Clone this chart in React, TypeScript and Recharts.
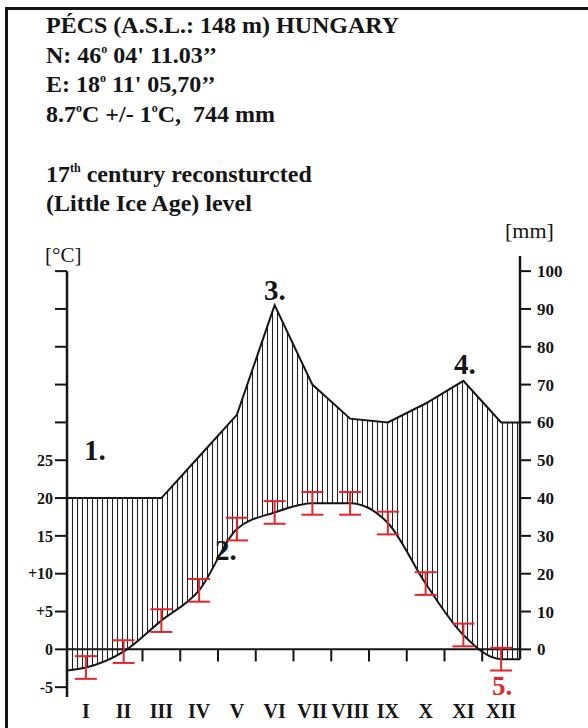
import React from 'react';
import { ComposedChart, Area, XAxis, YAxis, ReferenceLine, Scatter, ErrorBar } from 'recharts';

const months = ['I', 'II', 'III', 'IV', 'V', 'VI', 'VII', 'VIII', 'IX', 'X', 'XI', 'XII'];
const tempC = [-2.4, -0.3, 3.8, 7.8, 15.9, 18.1, 19.3, 19.3, 16.7, 8.7, 1.9, -1.3];
const tempErr = [1.5, 1.5, 1.5, 1.5, 1.5, 1.5, 1.5, 1.5, 1.5, 1.5, 1.5, 1.5];
const precipMm = [40, 40, 40, 51, 62, 91, 70, 61, 60, 65, 71, 60];
const edgeTemp = [-2.8, -1.3];
const edgePrecip = [40, 60];
const tempTicks = [-5, 0, 5, 10, 15, 20, 25, 30, 35, 40, 45, 50];
const tempTickLabels = ['-5', '0', '+5', '+10', '15', '20', '25', '', '', '', '', ''];
const mmTicks = [0, 10, 20, 30, 40, 50, 60, 70, 80, 90, 100];
const boundaryTicks = [2, 3, 4, 5, 6, 7, 8, 9, 10, 11];

const T_MIN = -6.3;
const T_MAX = 52;
const AXIS_TOP = 50;
const TICK_DOWN = -1.6;

const monthRows = months.map((m, i) => ({ x: i + 0.5, temp: tempC[i], err: tempErr[i], precip: precipMm[i] }));
const rows = [
  { x: 0, temp: edgeTemp[0], precip: edgePrecip[0] },
  ...monthRows,
  { x: 12, temp: edgeTemp[1], precip: edgePrecip[1] },
];

const SERIF = "'Liberation Serif', 'Times New Roman', serif";
const INK = '#151515';
const RED = '#e3262b';

// parts: alternating normal / superscript segments
const Line = ({ x, y, parts }: { x: number; y: number; parts: string[] }) => (
  <text x={x} y={y} xmlSpace="preserve">
    {parts.map((p, i) =>
      i % 2 === 1 ? (
        <tspan key={i} dy={-10} fontSize={12}>{p}</tspan>
      ) : (
        <tspan key={i} dy={i === 0 ? 0 : 10}>{p}</tspan>
      )
    )}
  </text>
);

export default function App() {
  return (
    <div style={{ position: 'fixed', left: 0, top: 0, width: 588, height: 728, overflow: 'hidden', background: '#fff' }}>
      <svg width={0} height={0} style={{ position: 'absolute' }}>
        <defs>
          <pattern id="hatch" x={0} y={0} width={5} height={10} patternUnits="userSpaceOnUse">
            <line x1={2.5} y1={0} x2={2.5} y2={10} stroke="#222" strokeWidth={1.1} />
          </pattern>
        </defs>
      </svg>
      <div style={{ position: 'absolute', left: 0, top: 0 }}>
        <ComposedChart width={588} height={728} data={rows} margin={{ top: 256, right: 0, bottom: 0, left: 0 }}>
          <XAxis
            dataKey="x"
            type="number"
            domain={[0, 12]}
            ticks={monthRows.map((r) => r.x)}
            interval={0}
            tickFormatter={(v: number) => months[Math.floor(v)]}
            axisLine={false}
            tickLine={false}
            tickSize={0}
            tickMargin={7}
            height={31}
            tick={{ fontFamily: SERIF, fontWeight: 'bold', fontSize: 20, fill: INK }}
          />
          <YAxis
            yAxisId="t"
            orientation="left"
            width={67}
            type="number"
            domain={[T_MIN, T_MAX]}
            allowDataOverflow
            ticks={tempTicks}
            interval={0}
            tickFormatter={(v: number) => tempTickLabels[tempTicks.indexOf(v)]}
            axisLine={false}
            tickSize={12}
            tickMargin={2}
            tickLine={{ stroke: INK, strokeWidth: 2 }}
            tick={{ fontFamily: SERIF, fontWeight: 'bold', fontSize: 16, fill: INK }}
          />
          <YAxis
            yAxisId="mm"
            orientation="right"
            width={68}
            type="number"
            domain={[T_MIN * 2, T_MAX * 2]}
            allowDataOverflow
            ticks={mmTicks}
            interval={0}
            axisLine={false}
            tickSize={11}
            tickMargin={6}
            tickLine={{ stroke: INK, strokeWidth: 2 }}
            tick={{ fontFamily: SERIF, fontWeight: 'bold', fontSize: 17, fill: INK }}
          />
          <Area
            yAxisId="mm"
            dataKey="precip"
            type="linear"
            baseValue="dataMin"
            fill="url(#hatch)"
            fillOpacity={1}
            stroke={INK}
            strokeWidth={2}
            dot={false}
            activeDot={false}
            isAnimationActive={false}
          />
          <Area
            yAxisId="t"
            dataKey="temp"
            type="monotone"
            baseValue="dataMin"
            fill="#ffffff"
            fillOpacity={1}
            stroke={INK}
            strokeWidth={2}
            dot={false}
            activeDot={false}
            isAnimationActive={false}
          />
          <ReferenceLine yAxisId="t" y={0} stroke={INK} strokeWidth={2} />
          {boundaryTicks.map((b) => (
            <ReferenceLine
              key={b}
              yAxisId="t"
              segment={[{ x: b, y: 0 }, { x: b, y: TICK_DOWN }]}
              stroke={INK}
              strokeWidth={2}
            />
          ))}
          <ReferenceLine yAxisId="t" segment={[{ x: 0, y: T_MIN }, { x: 0, y: AXIS_TOP }]} stroke={INK} strokeWidth={2.5} />
          <ReferenceLine yAxisId="t" segment={[{ x: 12, y: edgeTemp[1] }, { x: 12, y: T_MAX }]} stroke={INK} strokeWidth={2.5} />
          <Scatter yAxisId="t" data={monthRows} dataKey="temp" shape={() => <g />} isAnimationActive={false}>
            <ErrorBar dataKey="err" direction="y" width={11} stroke={RED} strokeWidth={2} />
          </Scatter>
        </ComposedChart>
      </div>
      <svg width={588} height={728} style={{ position: 'absolute', left: 0, top: 0, pointerEvents: 'none' }}>
        <g fontFamily={SERIF} fontWeight="bold" fontSize={24} fill={INK}>
          <Line x={46} y={33} parts={['PÉCS (A.S.L.: 148 m) HUNGARY']} />
          <Line x={46} y={63} parts={['N: 46', 'o', ' 04\' 11.03’’']} />
          <Line x={46} y={92} parts={['E: 18', 'o', ' 11\' 05,70’’']} />
          <Line x={46} y={122} parts={['8.7', 'o', 'C +/- 1', 'o', 'C,  744 mm']} />
          <Line x={46} y={182} parts={['17', 'th', ' century reconsturcted']} />
          <Line x={46} y={211} parts={['(Little Ice Age) level']} />
        </g>
        <text x={45} y={262} fontFamily={SERIF} fontSize={21} fill={INK}>[°C]</text>
        <text x={505} y={238} fontFamily={SERIF} fontSize={22} fill={INK}>[mm]</text>
        <g fontFamily={SERIF} fontWeight="bold" fontSize={29} fill={INK}>
          <text x={84} y={460}>1.</text>
          <text x={215} y={560}>2.</text>
          <text x={264} y={300}>3.</text>
          <text x={454} y={374}>4.</text>
        </g>
        <text x={492} y={695} fontFamily={SERIF} fontWeight="bold" fontSize={27} fill={RED}>5.</text>
      </svg>
      <div style={{ position: 'absolute', left: 5, top: 7, width: 700, height: 800, border: `3px solid ${INK}` }} />
    </div>
  );
}
